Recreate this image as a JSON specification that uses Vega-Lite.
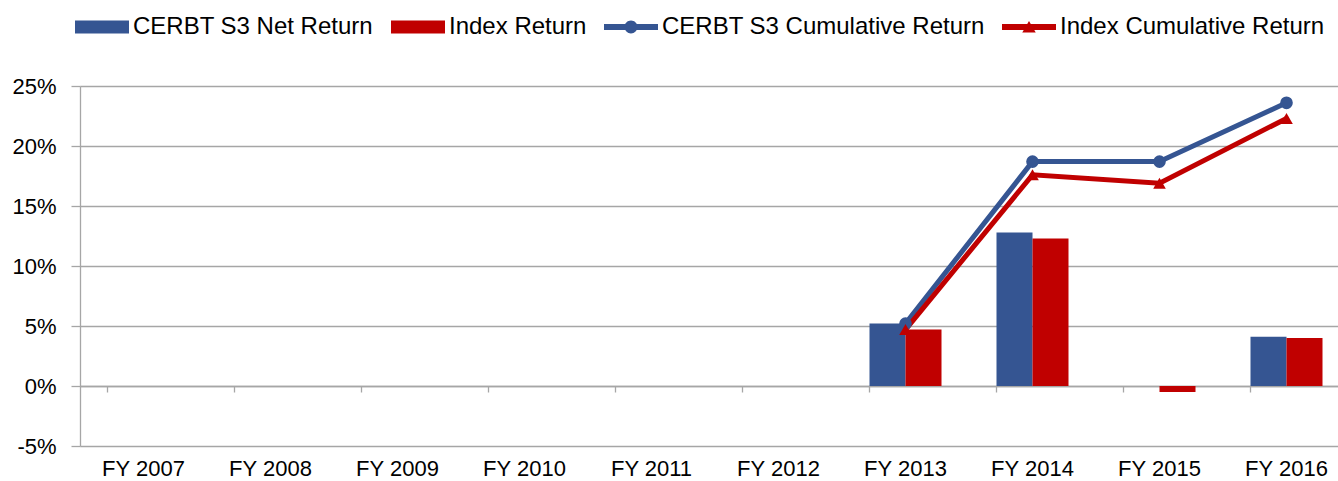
{
  "$schema": "https://vega.github.io/schema/vega-lite/v6.json",
  "width": 1270,
  "height": 360,
  "autosize": {"type": "none"},
  "padding": {"left": 80, "top": 86, "right": 0, "bottom": 35},
  "background": "white",
  "config": {
    "view": {"stroke": null},
    "font": "Liberation Sans"
  },
  "datasets": {
    "annual": [
      {"fy": "FY 2013", "series": "CERBT S3 Net Return", "value": 0.052},
      {"fy": "FY 2013", "series": "Index Return", "value": 0.047},
      {"fy": "FY 2014", "series": "CERBT S3 Net Return", "value": 0.128},
      {"fy": "FY 2014", "series": "Index Return", "value": 0.123},
      {"fy": "FY 2015", "series": "CERBT S3 Net Return", "value": 0.0},
      {"fy": "FY 2015", "series": "Index Return", "value": -0.005},
      {"fy": "FY 2016", "series": "CERBT S3 Net Return", "value": 0.041},
      {"fy": "FY 2016", "series": "Index Return", "value": 0.040}
    ],
    "cumulative": [
      {"fy": "FY 2013", "series": "CERBT S3 Cumulative Return", "value": 0.052},
      {"fy": "FY 2014", "series": "CERBT S3 Cumulative Return", "value": 0.187},
      {"fy": "FY 2015", "series": "CERBT S3 Cumulative Return", "value": 0.187},
      {"fy": "FY 2016", "series": "CERBT S3 Cumulative Return", "value": 0.236},
      {"fy": "FY 2013", "series": "Index Cumulative Return", "value": 0.047},
      {"fy": "FY 2014", "series": "Index Cumulative Return", "value": 0.176},
      {"fy": "FY 2015", "series": "Index Cumulative Return", "value": 0.169},
      {"fy": "FY 2016", "series": "Index Cumulative Return", "value": 0.223}
    ]
  },
  "layer": [
    {
      "data": {"name": "annual"},
      "mark": {"type": "bar"},
      "encoding": {
        "x": {
          "field": "fy",
          "type": "nominal",
          "scale": {
            "domain": ["FY 2007", "FY 2008", "FY 2009", "FY 2010", "FY 2011", "FY 2012", "FY 2013", "FY 2014", "FY 2015", "FY 2016"],
            "paddingInner": 0.433,
            "paddingOuter": 0.2165
          },
          "axis": {
            "orient": "bottom",
            "title": null,
            "domain": false,
            "ticks": false,
            "grid": false,
            "labelAngle": 0,
            "labelFontSize": 22,
            "labelColor": "black",
            "labelPadding": 12
          }
        },
        "xOffset": {
          "field": "series",
          "type": "nominal",
          "scale": {"domain": ["CERBT S3 Net Return", "Index Return"], "paddingInner": 0}
        },
        "y": {
          "field": "value",
          "type": "quantitative",
          "scale": {"domain": [-0.05, 0.25], "nice": false, "zero": false},
          "axis": {
            "title": null,
            "values": [-0.05, 0, 0.05, 0.1, 0.15, 0.2, 0.25],
            "labelExpr": "round(datum.value * 100) + '%'",
            "grid": true,
            "gridColor": "#a6a6a6",
            "gridWidth": 1.3,
            "domainColor": "#a6a6a6",
            "domainWidth": 1.3,
            "tickColor": "#a6a6a6",
            "tickWidth": 1.3,
            "tickSize": 9,
            "labelFontSize": 22,
            "labelColor": "black",
            "labelPadding": 15
          }
        },
        "color": {
          "field": "series",
          "type": "nominal",
          "scale": {
            "domain": ["CERBT S3 Net Return", "Index Return", "CERBT S3 Cumulative Return", "Index Cumulative Return"],
            "range": ["#355592", "#c00000", "#355592", "#c00000"]
          },
          "legend": {
            "title": null,
            "orient": "none",
            "direction": "horizontal",
            "legendX": -5,
            "legendY": -86,
            "padding": 0,
            "symbolSize": 2916,
            "symbolStrokeWidth": 0,
            "labelOffset": 4,
            "columnPadding": 17,
            "labelFontSize": 24,
            "labelColor": "black",
            "labelLimit": 500,
            "encode": {
              "symbols": {
                "update": {
                  "shape": {"signal": "datum.value === 'CERBT S3 Cumulative Return' ? 'M-1,-0.11H1V0.11H-1Z M-0.24,0A0.24,0.24,0,1,1,0.24,0A0.24,0.24,0,1,1,-0.24,0Z' : datum.value === 'Index Cumulative Return' ? 'M-1,-0.11H1V0.11H-1Z M-0.25,0.2L0,-0.22L0.25,0.2Z' : 'M-1,-0.24H1V0.24H-1Z'"},
                  "fill": {"signal": "indexof(['CERBT S3 Net Return','CERBT S3 Cumulative Return'], datum.value) >= 0 ? '#355592' : '#c00000'"},
                  "stroke": {"value": "transparent"},
                  "strokeWidth": {"value": 0},
                  "opacity": {"value": 1}
                }
              }
            }
          }
        }
      }
    },
    {
      "data": {"name": "cumulative"},
      "mark": {"type": "line", "strokeWidth": 5},
      "encoding": {
        "x": {
          "field": "fy",
          "type": "nominal",
          "axis": {
            "orient": "bottom",
            "offset": -60,
            "title": null,
            "labels": false,
            "grid": false,
            "domain": true,
            "domainColor": "#a6a6a6",
            "domainWidth": 1.3,
            "ticks": true,
            "tickSize": 6,
            "tickWidth": 1.3,
            "tickColor": "#a6a6a6",
            "bandPosition": 0
          }
        },
        "y": {"field": "value", "type": "quantitative"},
        "color": {"field": "series", "type": "nominal"}
      }
    },
    {
      "data": {"name": "cumulative"},
      "mark": {"type": "point", "filled": true, "opacity": 1, "size": 160},
      "encoding": {
        "x": {"field": "fy", "type": "nominal", "axis": null},
        "y": {"field": "value", "type": "quantitative"},
        "color": {"field": "series", "type": "nominal"},
        "shape": {
          "field": "series",
          "type": "nominal",
          "scale": {"domain": ["CERBT S3 Cumulative Return", "Index Cumulative Return"], "range": ["circle", "triangle-up"]},
          "legend": null
        }
      }
    }
  ],
  "resolve": {"axis": {"x": "independent"}}
}
